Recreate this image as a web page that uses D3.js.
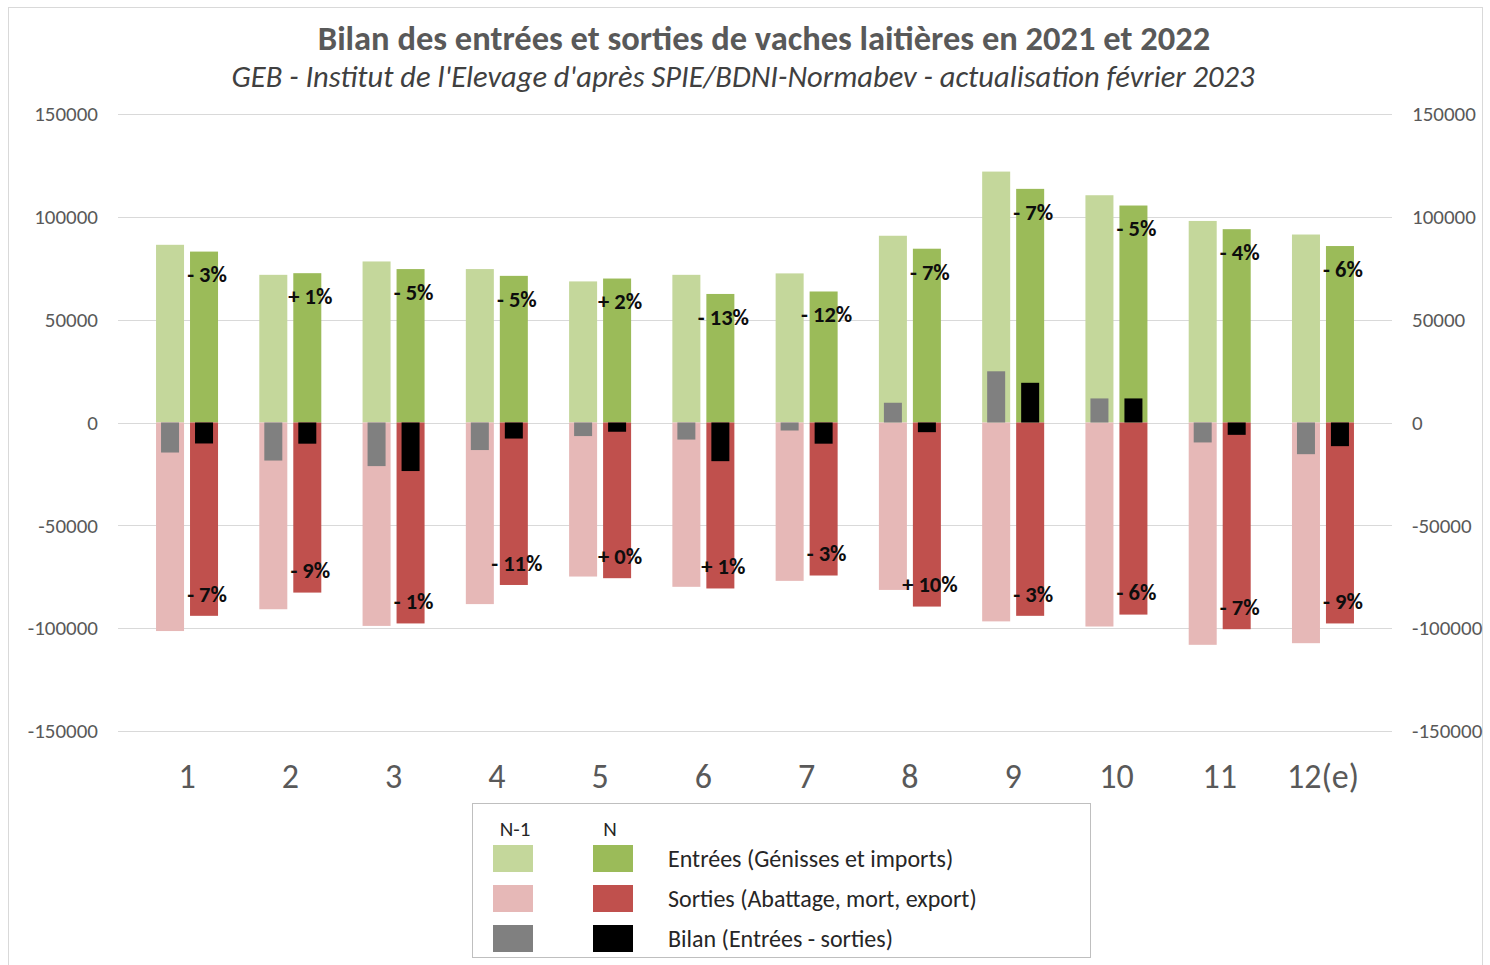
<!DOCTYPE html>
<html><head><meta charset="utf-8">
<script src="https://cdn.jsdelivr.net/npm/d3@7"></script>
<style>body{margin:0;background:#fff;} svg{display:block;}</style>
</head><body>
<svg id="c" width="1490" height="965"></svg>
<script>
const months = ["1","2","3","4","5","6","7","8","9","10","11","12(e)"];
const entreesN1 = [86400, 71800, 78300, 74600, 68600, 71800, 72500, 90800, 122000, 110500, 98000, 91400];
const entreesN  = [83100, 72600, 74600, 71300, 70000, 62500, 63700, 84500, 113600, 105500, 94000, 85800];
const sortiesN1 = [-101400, -90800, -98900, -88300, -74900, -79900, -77000, -81400, -96700, -99200, -108100, -107300];
const sortiesN  = [-94000, -82700, -97700, -79000, -75700, -80700, -74400, -89500, -94000, -93400, -100500, -97700];
const bilanN1   = [-14600, -18500, -21200, -13400, -6600, -8300, -3900, 9600, 24900, 11700, -9700, -15400];
const bilanN    = [-10200, -10300, -23600, -7800, -4500, -18800, -10300, -4700, 19300, 11700, -6000, -11500];
const pctEntrees = ["- 3%","+ 1%","- 5%","- 5%","+ 2%","- 13%","- 12%","- 7%","- 7%","- 5%","- 4%","- 6%"];
const pctSorties = ["- 7%","- 9%","- 1%","- 11%","+ 0%","+ 1%","- 3%","+ 10%","- 3%","- 6%","- 7%","- 9%"];
const yTicks = [150000, 100000, 50000, 0, -50000, -100000, -150000];
const legendLabels = ["Entrées (Génisses et imports)", "Sorties (Abattage, mort, export)", "Bilan (Entrées - sorties)"];

const colors = {
  entN1: "#c4d79b", entN: "#9bbb59",
  sorN1: "#e6b8b7", sorN: "#c0504d",
  bilN1: "#808080", bilN: "#000000"
};
const FONT = "Carlito, Lato, 'Liberation Sans', sans-serif";
const svg = d3.select("#c");

// outer frame
svg.append("rect").attr("x", 8.5).attr("y", 7.5).attr("width", 1474).attr("height", 970)
  .attr("fill", "none").attr("stroke", "#d9d9d9");

const y = d3.scaleLinear().domain([-150000, 150000]).range([731, 114]);
const x = d3.scaleBand().domain(months).range([135.4, 1374.6]);
const x1 = d3.scaleBand().domain(["N-1", "N"]).range([-31, 31]).paddingInner(0.176);
const bw = x1.bandwidth();
const bbw = 18;
const fmt = d => String(d);

// gridlines
svg.append("g").selectAll("line").data(yTicks).join("line")
  .attr("x1", 118).attr("x2", 1392)
  .attr("y1", d => Math.round(y(d)) + 0.5).attr("y2", d => Math.round(y(d)) + 0.5)
  .attr("stroke", "#d9d9d9").attr("stroke-width", 1);

// axes
const axL = svg.append("g").attr("transform", "translate(118,0)")
  .call(d3.axisLeft(y).tickValues(yTicks).tickFormat(fmt).tickSize(0).tickPadding(20));
const axR = svg.append("g").attr("transform", "translate(1392,0)")
  .call(d3.axisRight(y).tickValues(yTicks).tickFormat(fmt).tickSize(0).tickPadding(20));
[axL, axR].forEach(a => {
  a.select(".domain").remove();
  a.selectAll("text").attr("font-family", FONT).attr("font-size", 21).attr("fill", "#595959");
});
const axB = svg.append("g").attr("transform", "translate(0,776)")
  .call(d3.axisBottom(x).tickSize(0).tickPadding(0));
axB.select(".domain").remove();
axB.selectAll("text").attr("font-family", FONT).attr("font-size", 34).attr("fill", "#595959")
  .attr("dy", "0.35em");

const rows = months.map((m, i) => ({m, i}));
function bars(vals, key, width, color) {
  svg.append("g").selectAll("rect").data(rows).join("rect")
    .attr("x", d => x(d.m) + x.bandwidth() / 2 + x1(key) + (bw - width) / 2)
    .attr("width", width)
    .attr("y", d => y(Math.max(0, vals[d.i])))
    .attr("height", d => Math.abs(y(vals[d.i]) - y(0)))
    .attr("fill", color);
}
bars(entreesN1, "N-1", bw, colors.entN1);
bars(entreesN, "N", bw, colors.entN);
bars(sortiesN1, "N-1", bw, colors.sorN1);
bars(sortiesN, "N", bw, colors.sorN);
bars(bilanN1, "N-1", bbw, colors.bilN1);
bars(bilanN, "N", bbw, colors.bilN);

// percent labels
const cx = d => x(d.m) + x.bandwidth() / 2 + x1("N") + bw / 2 + 3;
svg.append("g").selectAll("text").data(rows).join("text")
  .attr("x", cx).attr("y", d => y(entreesN[d.i]) + 23).attr("dy", "0.35em")
  .attr("text-anchor", "middle").attr("font-family", FONT).attr("font-weight", "bold")
  .attr("font-size", 22.5).attr("fill", "#0d0d0d").text(d => pctEntrees[d.i]);
svg.append("g").selectAll("text").data(rows).join("text")
  .attr("x", cx).attr("y", d => y(sortiesN[d.i]) - 22).attr("dy", "0.35em")
  .attr("text-anchor", "middle").attr("font-family", FONT).attr("font-weight", "bold")
  .attr("font-size", 22.5).attr("fill", "#0d0d0d").text(d => pctSorties[d.i]);

// title
svg.append("text").attr("x", 764).attr("y", 50).attr("text-anchor", "middle")
  .attr("font-family", FONT).attr("font-weight", "bold").attr("font-size", 34.5).attr("fill", "#595959")
  .text("Bilan des entrées et sorties de vaches laitières en 2021 et 2022");
svg.append("text").attr("x", 743).attr("y", 87).attr("text-anchor", "middle")
  .attr("font-family", FONT).attr("font-style", "italic").attr("font-size", 30.5).attr("fill", "#404040")
  .text("GEB - Institut de l'Elevage d'après SPIE/BDNI-Normabev - actualisation février 2023");

// legend
const lg = svg.append("g");
lg.append("rect").attr("x", 472.5).attr("y", 803.5).attr("width", 618).attr("height", 154)
  .attr("fill", "#fff").attr("stroke", "#bfbfbf");
lg.append("text").attr("x", 515).attr("y", 836).attr("text-anchor", "middle").attr("font-family", FONT)
  .attr("font-size", 21).attr("fill", "#262626").text("N-1");
lg.append("text").attr("x", 610).attr("y", 836).attr("text-anchor", "middle").attr("font-family", FONT)
  .attr("font-size", 21).attr("fill", "#262626").text("N");
const legColors = [[colors.entN1, colors.entN], [colors.sorN1, colors.sorN], [colors.bilN1, colors.bilN]];
legendLabels.forEach((t, i) => {
  const yy = 845 + i * 40;
  lg.append("rect").attr("x", 493).attr("y", yy).attr("width", 40).attr("height", 27).attr("fill", legColors[i][0]);
  lg.append("rect").attr("x", 593).attr("y", yy).attr("width", 40).attr("height", 27).attr("fill", legColors[i][1]);
  lg.append("text").attr("x", 668).attr("y", yy + 14).attr("dy", "0.35em").attr("font-family", FONT)
    .attr("font-size", 24).attr("fill", "#262626").text(t);
});
</script>
</body></html>
